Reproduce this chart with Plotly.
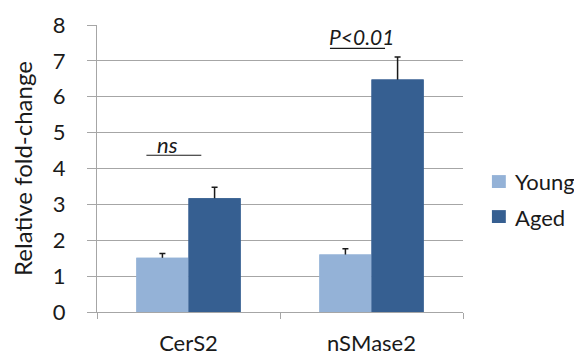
import plotly.graph_objects as go

categories = ["CerS2", "nSMase2"]
young = [1.51, 1.60]
young_err = [0.12, 0.16]
aged = [3.17, 6.48]
aged_err = [0.31, 0.63]
series_names = ["Young", "Aged"]
y_ticks = [0, 1, 2, 3, 4, 5, 6, 7, 8]

C_YOUNG = "#94B2D7"
C_AGED = "#365F91"
GRID = "#A6A6A6"
INK = "#1a1a1a"
FONT = "Lato, Calibri, Carlito, sans-serif"

fig = go.Figure()
series = [(series_names[0], young, young_err, C_YOUNG),
          (series_names[1], aged, aged_err, C_AGED)]
# bars with upward error bars (lower end buried inside the bar)
for name, vals, errs, col in series:
    fig.add_trace(go.Bar(
        x=categories, y=vals, name=name, marker_color=col, marker_line_width=0,
        offsetgroup=name,
        error_y=dict(type="data", array=errs, arrayminus=[0.3] * len(errs),
                     symmetric=False, color=INK, thickness=1.5, width=3)))
# same bars drawn again on top to hide the lower half of each error bar
for name, vals, errs, col in series:
    fig.add_trace(go.Bar(
        x=categories, y=vals, name=name, marker_color=col, marker_line_width=0,
        offsetgroup=name, showlegend=False, hoverinfo="skip"))

# the page body adds an 8px offset, so the figure is 8px smaller
fig.update_layout(
    width=574, height=350,
    margin=dict(l=89, r=119, t=17, b=46),
    paper_bgcolor="white", plot_bgcolor="white",
    barmode="group", bargap=0.43, bargroupgap=0,
    showlegend=False,
    font=dict(family=FONT, size=22, color=INK),
)
fig.update_xaxes(
    automargin=False,
    showgrid=False, showline=True, linecolor=GRID, linewidth=1,
    ticks="outside", tickson="boundaries", ticklen=6, tickcolor=GRID,
    ticklabelstandoff=12, tickfont=dict(size=22),
)
fig.update_yaxes(
    automargin=False,
    range=[0, 8], tickvals=y_ticks, showgrid=True, gridcolor=GRID, gridwidth=1,
    showline=True, linecolor=GRID, linewidth=1,
    ticks="outside", ticklen=9, tickcolor=GRID, ticklabelstandoff=17,
    tickfont=dict(size=22), zeroline=False,
    title=dict(text="Relative fold-change", font=dict(size=24), standoff=18),
)

# significance annotations
fig.add_shape(type="line", xref="x", yref="y", x0=-0.23, x1=0.07, y0=4.37, y1=4.37,
              line=dict(color=INK, width=1.2))
fig.add_annotation(x=-0.115, y=4.66, xref="x", yref="y", text="<i>ns</i>",
                   showarrow=False, font=dict(size=22))
fig.add_shape(type="line", xref="x", yref="y", x0=0.773, x1=1.074, y0=7.35, y1=7.35,
              line=dict(color=INK, width=1.2))
fig.add_annotation(x=0.948, y=7.67, xref="x", yref="y", text="<i>P<0.01</i>",
                   showarrow=False, font=dict(size=21))

# legend (manual, Excel style)
legend_pos = [(0.432, 0.477, 0.453), (0.310, 0.355, 0.331)]
for (name, _, _, col), (y0, y1, yc) in zip(series, legend_pos):
    fig.add_shape(type="rect", xref="paper", yref="paper",
                  x0=1.079, x1=1.117, y0=y0, y1=y1, fillcolor=col, line_width=0)
    fig.add_annotation(x=1.137, y=yc, xref="paper", yref="paper", text=name,
                       showarrow=False, xanchor="left", yanchor="middle",
                       font=dict(size=22))

fig.write_html("out.html")
